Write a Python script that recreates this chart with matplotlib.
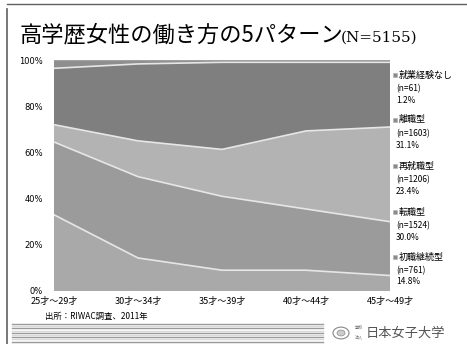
import matplotlib.pyplot as plt
import numpy as np
from matplotlib.lines import Line2D
from matplotlib.patches import Circle, Rectangle

plt.rcParams['font.family'] = ['Noto Sans CJK JP', 'DejaVu Sans']

W, H = 467, 344

ages = ['25才〜29才', '30才〜34才', '35才〜39才', '40才〜44才', '45才〜49才']
# bottom to top
shoshoku = [33.0, 14.3, 9.0, 9.0, 6.7]
tenshoku = [31.5, 35.2, 32.0, 26.5, 23.3]
saishushoku = [7.5, 15.5, 20.3, 33.8, 41.0]
rishoku = [24.4, 33.3, 37.7, 29.7, 28.0]
nashi = [3.6, 1.7, 1.0, 1.0, 1.0]

names = ['初職継続型', '転職型', '再就職型', '離職型', '就業経験なし']
counts = ['(n=761)', '(n=1524)', '(n=1206)', '(n=1603)', '(n=61)']
shares = ['14.8%', '30.0%', '23.4%', '31.1%', '1.2%']
colors = ['#a9a9a9', '#9b9b9b', '#b3b3b3', '#7f7f7f', '#8e8e8e']


def px(x, y):
    return x / W, 1 - y / H


fig = plt.figure(figsize=(W / 100, H / 100), dpi=100)
ax = fig.add_axes([54 / W, (H - 291) / H, 336 / W, 231 / H])

x = np.arange(len(ages))
layers = [shoshoku, tenshoku, saishushoku, rishoku, nashi]
ax.stackplot(x, *layers, colors=colors, linewidth=0)
cum = np.cumsum(layers, axis=0)
for row in cum[:-1]:
    ax.plot(x, row, color='#e6e6e6', lw=1.2)
ax.plot(x, cum[-1], color='#a0a0a0', lw=1)

ax.set_xlim(0, len(ages) - 1)
ax.set_ylim(0, 100)
ax.set_yticks(range(0, 101, 20))
ax.set_yticklabels([f'{v}%' for v in range(0, 101, 20)], fontsize=6,
                   family=['DejaVu Sans'])
ax.set_xticks(x)
ax.set_xticklabels(ages, fontsize=6.5)
ax.tick_params(length=0, axis='y', pad=8)
ax.tick_params(length=0, axis='x', pad=4)
for s in ax.spines.values():
    s.set_visible(False)

# legend as text on the right
ys = [257, 212, 166, 120, 75]
for name, n, sh, y, c in zip(names, counts, shares, ys, colors):
    fig.add_artist(Rectangle(px(393, y + 2), 4 / W, 4 / H, transform=fig.transFigure,
                             facecolor='#8a8a8a', edgecolor='#b0b0b0', lw=0.4))
    fig.text(*px(399, y), name, fontsize=6.5, va='center')
    fig.text(*px(396, y + 14), n, fontsize=6, va='center')
    fig.text(*px(396, y + 25), sh, fontsize=6, va='center')

# title
fig.text(*px(20, 42), '高学歴女性の働き方の5パターン', fontsize=16, va='baseline')
fig.text(*px(341, 42), '(N=5155)', fontsize=11, va='baseline', family='DejaVu Serif')

fig.text(*px(45, 316), '出所：RIWAC調査、2011年', fontsize=6, va='center')

# frame lines
fig.add_artist(Line2D([7 / W, 1], [1 - 4 / H] * 2, color='#606060', lw=1))
fig.add_artist(Line2D([7 / W] * 2, [1 - 9 / H, 0], color='#606060', lw=1.2))

# striped band at the bottom
for i, yy in enumerate(np.arange(324, 344, 2.2)):
    c = '#9a9a9a' if i % 2 == 0 else '#d8d8d8'
    fig.add_artist(Line2D([12 / W, 323 / W], [1 - yy / H] * 2, color=c, lw=1))

# logo
fig.add_artist(Circle(px(341, 333), 8 / W, transform=fig.transFigure,
                      facecolor='white', edgecolor='#888888', lw=0.8))
fig.add_artist(Circle(px(341, 333), 4 / W, transform=fig.transFigure,
                      facecolor='#cccccc', edgecolor='#888888', lw=0.5))
fig.text(*px(355, 328), '学校', fontsize=3, color='#666666', va='center')
fig.text(*px(355, 337), '法人', fontsize=3, color='#666666', va='center')
fig.text(*px(366, 333), '日本女子大学', fontsize=9.5, color='#555555', va='center')

fig.savefig('out.png', dpi=100)
